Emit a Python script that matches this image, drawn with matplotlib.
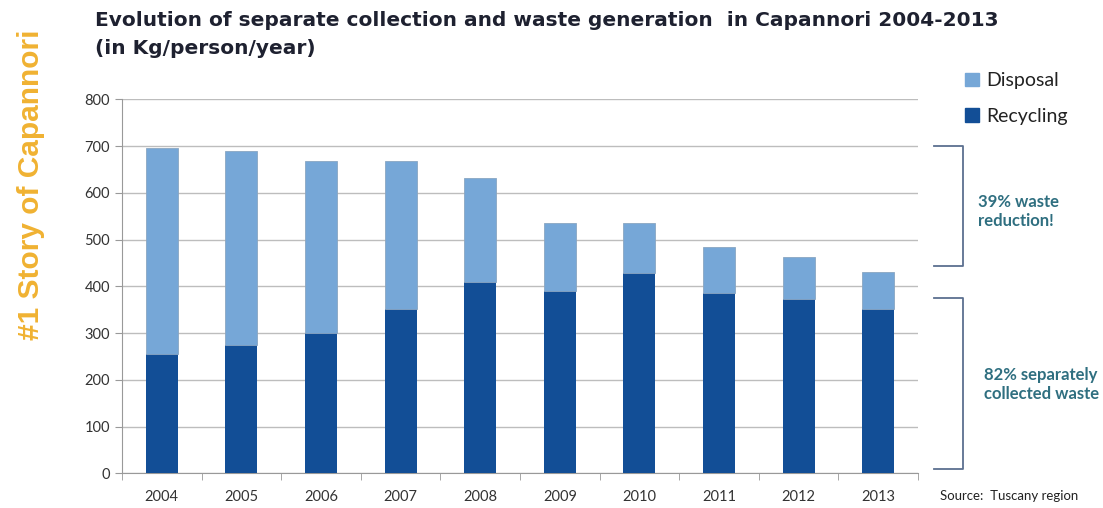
import numpy as np
import matplotlib
matplotlib.use("Agg")
from matplotlib import pyplot as plt
from matplotlib.patches import Patch

years = ["2004", "2005", "2006", "2007", "2008", "2009", "2010", "2011", "2012", "2013"]
recycling = [255, 274, 300, 351, 409, 390, 428, 386, 373, 351]
total = [695, 690, 668, 667, 632, 536, 536, 485, 462, 431]
disposal = [t - r for t, r in zip(total, recycling)]

light = "#76a7d7"
dark = "#124e96"
note_color = "#2f6f80"

fig = plt.figure(figsize=(11.03, 5.08), dpi=100)
ax = fig.add_axes([0.1106, 0.0683, 0.7217, 0.7362])

x = np.arange(len(years))
ax.bar(x, recycling, width=0.4, color=dark, zorder=3)
ax.bar(x, disposal, width=0.4, bottom=recycling, color=light,
       edgecolor="#8aa6c2", linewidth=0.6, zorder=3)

ax.set_xlim(-0.5, len(years) - 0.5)
ax.set_ylim(0, 800)
ax.set_yticks(range(0, 801, 100))
ax.set_xticks(x)
ax.set_xticklabels(years, family="Lato")
for t in ax.get_yticklabels():
    t.set_family("Lato")
ax.set_xticks(np.arange(-0.5, len(years), 1), minor=True)
ax.tick_params(axis="x", which="major", length=0, pad=12, labelsize=10.5, labelcolor="#333333")
ax.tick_params(axis="x", which="minor", length=5, color="#999999", direction="out")
ax.tick_params(axis="y", length=5, color="#999999", labelsize=10.5, labelcolor="#333333")
ax.grid(axis="y", color="#bdbdbd", linewidth=1, zorder=0)
for s in ["top", "right"]:
    ax.spines[s].set_visible(False)
ax.spines["left"].set_color("#999999")
ax.spines["bottom"].set_color("#999999")

fig.text(0.086, 0.96, "Evolution of separate collection and waste generation  in Capannori 2004-2013",
         fontsize=14.5, fontweight="bold", color="#1e2130", va="center")
fig.text(0.086, 0.905, "(in Kg/person/year)",
         fontsize=14.5, fontweight="bold", color="#1e2130", va="center")

fig.text(0.028, 0.33, "#1 Story of Capannori", rotation=90, fontsize=21.5,
         family="Liberation Sans", fontweight="bold", color="#f0b232",
         ha="center", va="bottom")

handles = [Patch(color=light), Patch(color=dark)]
fig.legend(handles, ["Disposal", "Recycling"], loc="upper left",
           bbox_to_anchor=(0.859, 0.892), frameon=False,
           prop={"family": "Lato", "size": 14},
           handlelength=0.7, handleheight=0.7, handletextpad=0.4,
           labelspacing=0.95, labelcolor="#222222")

# brackets on the right of the plot
tr = ax.get_yaxis_transform()
bx0, bx1 = 1.02, 1.056
ax.plot([bx0, bx1, bx1, bx0], [700, 700, 443, 443], transform=tr,
        color="#5c7090", linewidth=1.3, clip_on=False)
ax.plot([bx0, bx1, bx1, bx0], [375, 375, 10, 10], transform=tr,
        color="#5c7090", linewidth=1.3, clip_on=False)

ax.text(1.075, 560, "39% waste\nreduction!", transform=tr, fontsize=12,
        family="Lato", fontweight="bold", color=note_color, va="center",
        linespacing=1.3)
ax.text(1.083, 190, "82% separately\ncollected waste", transform=tr, fontsize=12,
        family="Lato", fontweight="bold", color=note_color, va="center",
        ha="left", linespacing=1.3)

fig.text(0.852, 0.015, "Source:  Tuscany region", fontsize=9.5, family="Lato",
         color="#222222")

fig.savefig("out.png", dpi=100)
